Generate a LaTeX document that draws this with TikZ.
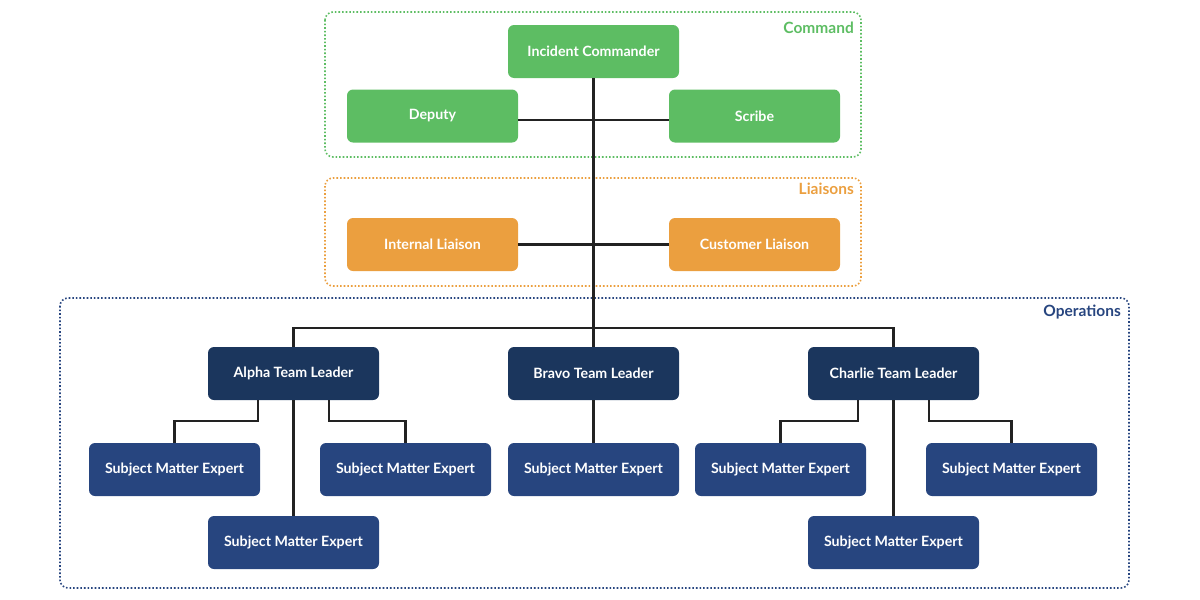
\documentclass[tikz,border=0pt]{standalone}
\usepackage{fontspec}
\setmainfont{Lato}
\definecolor{cgreen}{HTML}{5DBD63}
\definecolor{corange}{HTML}{EB9F3F}
\definecolor{cnavy}{HTML}{1B365D}
\definecolor{cblue}{HTML}{27457F}
\definecolor{cline}{HTML}{222222}
\begin{document}
\begin{tikzpicture}[x=1pt,y=-1pt,
  box/.style={rounded corners=6pt, minimum width=171pt, minimum height=53pt, inner sep=0pt,
     text=white, font=\fontsize{14.2}{16}\selectfont\bfseries},
  gbox/.style={box, fill=cgreen},
  obox/.style={box, fill=corange},
  lbox/.style={box, fill=cnavy},
  sbox/.style={box, fill=cblue},
  grp/.style={dotted, line width=1.6pt, rounded corners=8pt},
  glabel/.style={anchor=east, font=\fontsize{15.5}{17}\selectfont\bfseries, inner sep=0pt},
  conn/.style={draw=cline, line width=2.2pt}]
\useasboundingbox (0,0) rectangle (1200,600);
% groups
\draw[grp, draw=cgreen] (325,12) rectangle (861,157);
\node[glabel, text=cgreen] (lcmd) at (854,28) {Command};
\draw[grp, draw=corange] (325,178) rectangle (861,286);
\node[glabel, text=corange] (lliai) at (854,189) {Liaisons};
\draw[grp, draw=cblue] (60,298) rectangle (1129,588);
\node[glabel, text=cblue] (lops) at (1121,312) {Operations};
\coordinate (bus) at (593.5,328);
\coordinate (cmdy) at (593.5,120);
% nodes
\node[gbox] (ic) at (593.5,51.5) {Incident Commander};
\node[gbox] (dep) at (432.5,116) {Deputy};
\node[gbox] (scr) at (754.5,116) {Scribe};
\node[obox] (il) at (432.5,244.5) {Internal Liaison};
\node[obox] (cl) at (754.5,244.5) {Customer Liaison};
\node[lbox] (atl) at (293.5,373.5) {Alpha Team Leader};
\node[lbox] (btl) at (593.5,373.5) {Bravo Team Leader};
\node[lbox] (ctl) at (893.5,373.5) {Charlie Team Leader};
\node[sbox] (a1) at (174.5,469.5) {Subject Matter Expert};
\node[sbox] (a2) at (405.5,469.5) {Subject Matter Expert};
\node[sbox] (a3) at (293.5,542.5) {Subject Matter Expert};
\node[sbox] (b1) at (593.5,469.5) {Subject Matter Expert};
\node[sbox] (c1) at (780.5,469.5) {Subject Matter Expert};
\node[sbox] (c2) at (1011.5,469.5) {Subject Matter Expert};
\node[sbox] (c3) at (893.5,542.5) {Subject Matter Expert};
% connectors
\draw[conn] (ic.south) -- (btl.north);
\draw[conn] (dep.east |- cmdy) -- (scr.west |- cmdy);
\draw[conn] (il.east) -- (cl.west);
\draw[conn] (atl.north) -- (atl.north |- bus) -- (ctl.north |- bus) -- (ctl.north);
\draw[conn] ([xshift=-35.5pt]atl.south) -- ++(0,21) -| (a1.north);
\draw[conn] ([xshift=35.5pt]atl.south) -- ++(0,21) -| (a2.north);
\draw[conn] (atl.south) -- (a3.north);
\draw[conn] (btl.south) -- (b1.north);
\draw[conn] ([xshift=-35.5pt]ctl.south) -- ++(0,21) -| (c1.north);
\draw[conn] ([xshift=35.5pt]ctl.south) -- ++(0,21) -| (c2.north);
\draw[conn] (ctl.south) -- (c3.north);
\end{tikzpicture}
\end{document}
